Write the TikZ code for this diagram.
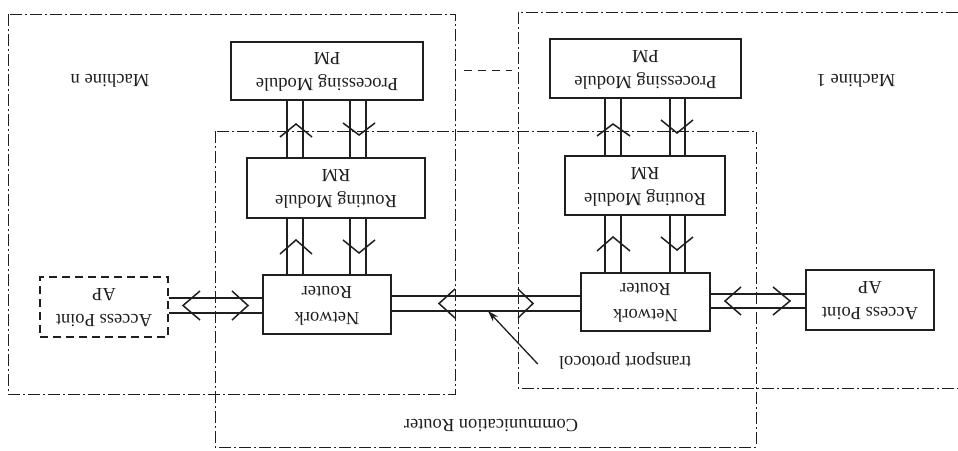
\documentclass[tikz,border=0pt]{standalone}
\usepackage{fontspec}
\usepackage{graphicx}
\setmainfont{Liberation Serif}
\usetikzlibrary{arrows.meta}
\newcommand\fliptext[1]{\rotatebox[origin=c]{180}{\begin{tabular}{@{}c@{}}#1\end{tabular}}}
\definecolor{ink}{gray}{0.12}
\begin{document}
\begin{tikzpicture}[x=1pt,y=-1pt,
  every node/.style={font=\fontsize{18.5}{26}\selectfont, text=ink},
  box/.style={draw=ink, line width=1.2pt, rectangle, inner sep=0pt, align=center},
  dbox/.style={box, dash pattern=on 8pt off 5pt},
  frame/.style={draw=ink, line width=1pt, dash pattern=on 12pt off 3pt on 2pt off 3pt},
  link/.style={draw=ink, line width=1.2pt},
  chev/.style={draw=ink, line width=1.5pt},
  lbl/.style={inner sep=1pt}]
\useasboundingbox (0,0) rectangle (958,450);
\fill[white] (0,0) rectangle (958,450);
% frames
\draw[frame] (8,14) rectangle (455,394);
\draw[frame] (958,12) -- (518,12) -- (518,388) -- (958,388);
\draw[frame] (215,131) rectangle (756,447);
\draw[ink, line width=1pt, dash pattern=on 8pt off 6pt] (464,70) -- (512,70);
% boxes
\node[box, minimum width=192pt, minimum height=58pt] (pmn) at (327,71) {\fliptext{Processing Module\\PM}};
\node[box, minimum width=191pt, minimum height=59pt] (pm1) at (645.5,68.5) {\fliptext{Processing Module\\PM}};
\node[box, minimum width=178pt, minimum height=60pt] (rmn) at (336,188) {\fliptext{Routing Module\\RM}};
\node[box, minimum width=160pt, minimum height=59pt] (rm1) at (645,185.5) {\fliptext{Routing Module\\RM}};
\node[box, minimum width=128pt, minimum height=59pt] (rtn) at (327,304.5) {\fliptext{Network\\Router}};
\node[box, minimum width=129pt, minimum height=58pt] (rt1) at (645.5,302) {\fliptext{Network\\Router}};
\node[dbox, minimum width=128pt, minimum height=60pt] (apn) at (104,307) {\fliptext{Access Point\\AP}};
\node[box, minimum width=128pt, minimum height=60pt] (ap1) at (870,300) {\fliptext{Access Point\\AP}};
% labels
\node[lbl] (mn) at (110,80) {\fliptext{Machine n}};
\node[lbl] (m1) at (856,80) {\fliptext{Machine 1}};
\node[lbl] (tp) at (625,362) {\fliptext{transport protocol}};
\node[lbl] (cr) at (491,425) {\fliptext{Communication Router}};
% vertical x positions
\coordinate (xa) at (287,0); \coordinate (xb) at (303,0);
\coordinate (xc) at (350,0); \coordinate (xd) at (366,0);
\coordinate (xe) at (605,0); \coordinate (xf) at (621,0);
\coordinate (xg) at (670,0); \coordinate (xh) at (685,0);
\foreach \x in {xa,xb,xc,xd}{
  \draw[link] (pmn.south -| \x) -- (rmn.north -| \x);
  \draw[link] (rmn.south -| \x) -- (rtn.north -| \x);
}
\foreach \x in {xe,xf,xg,xh}{
  \draw[link] (pm1.south -| \x) -- (rm1.north -| \x);
  \draw[link] (rm1.south -| \x) -- (rt1.north -| \x);
}
% horizontal y positions
\coordinate (ya) at (0,298); \coordinate (yb) at (0,313);
\coordinate (yc) at (0,296); \coordinate (yd) at (0,311);
\coordinate (ye) at (0,294); \coordinate (yf) at (0,308);
\foreach \y in {ya,yb}{ \draw[link] (apn.east |- \y) -- (rtn.west |- \y); }
\foreach \y in {yc,yd}{ \draw[link] (rtn.east |- \y) -- (rt1.west |- \y); }
\foreach \y in {ye,yf}{ \draw[link] (rt1.east |- \y) -- (ap1.west |- \y); }
% chevrons, machine n vertical
\draw[chev] (280,137) -- (296,124) -- (312,137);
\draw[chev] (343,123) -- (359,135) -- (375,123);
\draw[chev] (280,254) -- (296,240) -- (312,254);
\draw[chev] (343,240) -- (359,253) -- (375,240);
% chevrons, machine 1 vertical
\draw[chev] (597,136) -- (613,124) -- (630,136);
\draw[chev] (661,120) -- (677,133) -- (693,120);
\draw[chev] (597,251) -- (613,237) -- (630,251);
\draw[chev] (661,237) -- (677,250) -- (693,237);
% chevrons, horizontal
\draw[chev] (200,291) -- (183,305.5) -- (200,320);
\draw[chev] (232,291) -- (248,305.5) -- (232,320);
\draw[chev] (455,289) -- (439,303.5) -- (455,318);
\draw[chev] (518,289) -- (533,303.5) -- (518,318);
\draw[chev] (741,287) -- (725,301) -- (741,315);
\draw[chev] (773,287) -- (790,301) -- (773,315);
% transport protocol pointer
\coordinate (tpend) at (488,311);
\draw[ink, line width=1.3pt, -{Stealth[length=11pt,width=7pt]}] ([xshift=-20pt,yshift=-2pt]tp.west) -- (tpend);
\end{tikzpicture}
\end{document}
